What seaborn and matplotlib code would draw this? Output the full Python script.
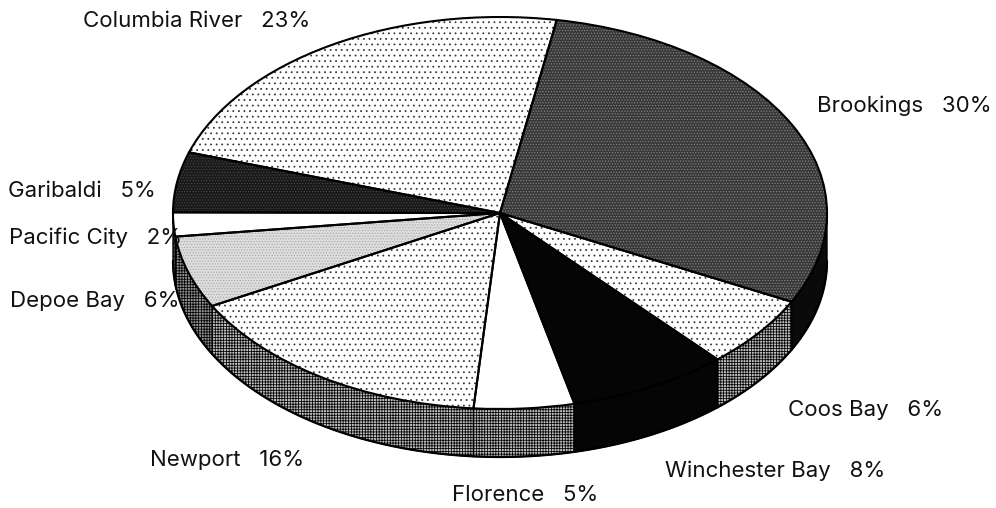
import numpy as np
import matplotlib
matplotlib.use("Agg")
import matplotlib.pyplot as plt
import seaborn as sns

sns.set_theme(style="white")
plt.rcParams['font.family'] = ['Inter', 'Liberation Sans', 'DejaVu Sans']
plt.rcParams['hatch.linewidth'] = 0.55

ports = ["Brookings", "Coos Bay", "Winchester Bay", "Florence", "Newport",
         "Depoe Bay", "Pacific City", "Garibaldi", "Columbia River"]
shares = [30, 6, 8, 5, 16, 6, 2, 5, 23]

top_colors = ["#383838", "white", "#050505", "white", "white", "#dedede", "white", "#181818", "white"]
top_hatch_colors = ["#858585", "#333333", "#050505", "white", "#333333", "#a8a8a8", "white", "#4a4a4a", "#333333"]
top_hatches = ["......", "...", None, None, "...", "......", None, "......", "..."]
side_colors = ["#0a0a0a", "#bdbdbd", "#050505", "#bdbdbd", "#bdbdbd", "#909090", "#606060", "#222222", "white"]
side_hatches = [None, "++++++", None, "++++++", "++++++", "++++++", "++++", None, None]
label_pos = [(817, 112), (788, 416), (665, 477), (452, 501), (150, 466),
             (10, 307), (9, 244), (8, 197), (83, 27)]

W, H = 996, 508
cx, cy, rx, ry, depth = 500, 213, 327, 196, 48
start = 80

fig = plt.figure(figsize=(W / 100, H / 100), dpi=100)
ax = fig.add_axes([0, 0, 1, 1])

wedges, _ = ax.pie(shares, startangle=start, counterclock=False,
                   wedgeprops={"linewidth": 0})
for w, c, hc, h in zip(wedges, top_colors, top_hatch_colors, top_hatches):
    w.set_facecolor(c)
    w.set_edgecolor(hc)
    w.set_hatch(h)
    w.set_linewidth(0)
    w.set_zorder(3)

outline, _ = ax.pie(shares, startangle=start, counterclock=False,
                    wedgeprops={"fill": False, "edgecolor": "black", "linewidth": 1.5})
for w in outline:
    w.set_zorder(4)

d = depth / ry
for w, c, h in zip(wedges, side_colors, side_hatches):
    t1, t2 = w.theta1, w.theta2
    for lo, hi in ((-180, 0), (180, 360)):
        a, b = max(t1, lo), min(t2, hi)
        if b <= a:
            continue
        th = np.radians(np.linspace(a, b, 80))
        x = np.cos(th)
        y = np.sin(th)
        ax.fill(np.r_[x, x[::-1]], np.r_[y, y[::-1] - d], facecolor=c,
                edgecolor="black", hatch=h, linewidth=1.0, zorder=2)
        ax.plot(x, y - d, color="black", lw=1.6, zorder=2.5)

ax.set_aspect("auto")
ax.set_xlim(-cx / rx, (W - cx) / rx)
ax.set_ylim(-(H - cy) / ry, cy / ry)
ax.axis("off")

for name, pct, (px, py) in zip(ports, shares, label_pos):
    fig.text(px / W, 1 - py / H, f"{name}   {pct}%", fontsize=16,
             color="#111111", ha="left", va="baseline", zorder=6)

fig.savefig("out.png", dpi=100, facecolor="white")
